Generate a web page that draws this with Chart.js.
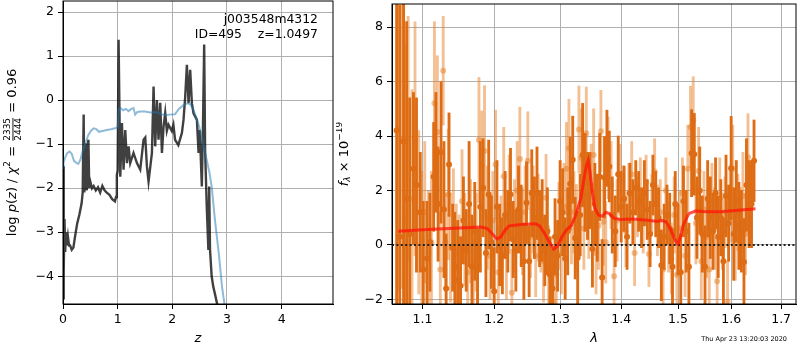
<!DOCTYPE html>
<html>
<head>
<meta charset="utf-8">
<script src="https://cdn.jsdelivr.net/npm/chart.js@4.4.0/dist/chart.umd.min.js"></script>
<style>
  body { margin: 0; background: #fff; }
  #wrap { position: relative; width: 800px; height: 350px; }
  canvas { position: absolute; top: 0; }
</style>
</head>
<body>
<div id="wrap">
  <canvas id="pz" width="340" height="350" style="left:0"></canvas>
  <canvas id="spec" width="464" height="350" style="left:336px"></canvas>
</div>
<script>
// ---- left panel: log p(z) and chi2 curve ----
const pzZ = [0.0, 0.008, 0.018, 0.028, 0.04, 0.055, 0.07, 0.09, 0.11, 0.13, 0.16, 0.19, 0.22, 0.26, 0.3, 0.34, 0.36, 0.378, 0.39, 0.405, 0.42, 0.435, 0.45, 0.465, 0.48, 0.5, 0.53, 0.56, 0.6, 0.64, 0.68, 0.72, 0.76, 0.8, 0.85, 0.9, 0.95, 0.97, 0.985, 1.0, 1.017, 1.048, 1.078, 1.108, 1.139, 1.17, 1.2, 1.23, 1.29, 1.353, 1.413, 1.474, 1.505, 1.535, 1.565, 1.627, 1.657, 1.687, 1.718, 1.748, 1.779, 1.81, 1.84, 1.87, 1.9, 1.93, 1.99, 2.02, 2.05, 2.11, 2.175, 2.205, 2.236, 2.267, 2.297, 2.327, 2.358, 2.388, 2.45, 2.48, 2.5, 2.52, 2.54, 2.56, 2.583, 2.6, 2.63, 2.66, 2.675, 2.69, 2.72, 2.75, 2.78, 2.815, 2.845];
const pzLog = [-4.5, -1.5, -3.9, -2.7, -3.45, -3.0, -3.3, -3.1, -3.3, -3.3, -3.4, -3.35, -3.1, -2.8, -2.6, -2.35, -2.1, -0.33, -2.1, -1.6, -0.98, -2.05, -1.1, -0.9, -2.0, -1.85, -2.0, -1.95, -2.05, -1.98, -2.1, -1.95, -2.05, -2.1, -2.15, -2.25, -2.3, -2.2, -1.7, -1.6, 1.37, -1.74, -0.52, -1.58, -0.68, -1.43, -1.05, -1.43, -1.2, -1.43, -1.58, -0.9, -0.85, -1.5, -1.85, -1.2, 0.31, -1.05, 0.0, -0.9, -0.06, -1.2, -0.6, -0.29, -0.7, -0.56, -0.7, -0.56, -0.9, -1.02, -0.75, -0.45, 0.08, 0.8, -0.07, 0.69, -0.07, -0.3, -0.45, -1.2, -0.68, -1.28, -1.96, -0.68, 1.26, -1.13, -2.42, -3.4, -1.96, -3.4, -4.0, -4.24, -4.4, -4.6, -4.8];
const chiZ = [0.0, 0.01, 0.04, 0.08, 0.12, 0.16, 0.2, 0.24, 0.28, 0.32, 0.36, 0.41, 0.46, 0.51, 0.56, 0.61, 0.66, 0.72, 0.8, 0.88, 0.95, 1.0, 1.02, 1.05, 1.1, 1.15, 1.2, 1.25, 1.29, 1.32, 1.36, 1.42, 1.5, 1.6, 1.7, 1.8, 1.88, 1.95, 2.05, 2.12, 2.2, 2.28, 2.33, 2.38, 2.42, 2.48, 2.54, 2.6, 2.63, 2.68, 2.72, 2.78, 2.85, 2.91, 2.95, 2.97];
const chiLog = [-1.55, -1.42, -1.3, -1.2, -1.17, -1.22, -1.38, -1.42, -1.45, -1.35, -1.15, -0.98, -0.8, -0.7, -0.64, -0.66, -0.72, -0.7, -0.68, -0.66, -0.64, -0.62, -0.2, -0.18, -0.23, -0.2, -0.25, -0.2, -0.18, -0.33, -0.27, -0.26, -0.26, -0.28, -0.27, -0.32, -0.34, -0.33, -0.32, -0.2, -0.12, -0.07, -0.1, -0.2, -0.34, -0.55, -0.83, -1.2, -1.36, -1.65, -1.96, -2.72, -3.48, -4.24, -4.6, -4.85];
const zTicks = [0, 1, 2, 3, 4];
const pzYTicks = [-4, -3, -2, -1, 0, 1, 2];

// ---- right panel: spectrum ----
const lamDark = [1.066, 1.070, 1.075, 1.079, 1.083, 1.088, 1.092, 1.097, 1.101, 1.106, 1.110, 1.115, 1.118, 1.121, 1.125, 1.129, 1.132, 1.136, 1.141, 1.144, 1.148, 1.152, 1.156, 1.160, 1.164, 1.168, 1.172, 1.176, 1.180, 1.184, 1.188, 1.192, 1.196, 1.200, 1.204, 1.208, 1.212, 1.216, 1.220, 1.224, 1.228, 1.232, 1.236, 1.240, 1.244, 1.248, 1.252, 1.256, 1.260, 1.264, 1.268, 1.272, 1.276, 1.280, 1.284, 1.288, 1.292, 1.296, 1.300, 1.304, 1.308, 1.312, 1.316, 1.320, 1.324, 1.328, 1.332, 1.336, 1.340, 1.344, 1.348, 1.352, 1.356, 1.360, 1.364, 1.368, 1.372, 1.376, 1.380, 1.385, 1.390, 1.395, 1.400, 1.405, 1.410, 1.415, 1.420, 1.425, 1.430, 1.435, 1.440, 1.445, 1.450, 1.455, 1.460, 1.465, 1.470, 1.475, 1.480, 1.485, 1.490, 1.495, 1.500, 1.505, 1.510, 1.515, 1.520, 1.525, 1.530, 1.535, 1.540, 1.545, 1.550, 1.555, 1.560, 1.565, 1.570, 1.575, 1.580, 1.585, 1.590, 1.595, 1.600, 1.605, 1.610, 1.615, 1.620, 1.625, 1.630, 1.635, 1.640, 1.645];
const fluxDark = [4.2, 0.3, 3.8, 1.7, 0.4, 2.8, 2.2, 1.2, -0.9, -0.5, 0.1, 2.5, 3.4, 1.5, 3.4, 1.3, -1.6, 2.95, -0.1, -0.8, -1.3, -1.5, 0.9, -0.2, 1.5, -0.8, 0.5, -0.9, 1.4, 2.1, -0.3, 1.85, 0.1, -1.7, 1.4, 0.0, -0.4, 1.1, 0.5, 1.85, 0.2, -0.2, 1.3, 0.7, -0.6, 1.55, -0.6, 1.9, 1.0, 1.9, 0.6, 0.9, -0.2, 0.5, -1.1, -1.6, 0.3, -0.4, 1.6, 1.2, -0.5, 0.5, 2.25, 3.13, 0.25, -0.47, 1.1, 3.3, 2.3, 1.8, 2.0, -0.15, 1.5, 1.0, 2.5, -1.2, 2.48, 3.55, 2.88, 1.1, 0.5, 2.6, 1.4, 1.7, 0.3, 1.9, 1.2, 2.1, 1.6, 1.0, 1.9, 1.3, 0.4, 2.2, 1.5, 1.0, -0.75, 0.3, 1.1, 0.6, -0.8, 1.5, 0.2, -1.0, 1.6, 0.5, -0.8, 3.37, 3.33, 1.0, 2.0, 0.4, -0.8, 1.7, 1.0, 0.5, 1.9, 0.3, 1.0, -0.6, 1.8, 0.8, 2.82, 0.4, 1.6, 0.7, 0.5, -0.63, 2.2, 1.5, 1.5, 3.09];
const errDark = [9.0, 8.5, 7.5, 6.5, 5.0, 2.8, 3.2, 2.2, 2.5, 2.1, 1.8, 2.0, 2.2, 2.1, 2.6, 2.5, 2.0, 1.9, 1.6, 2.0, 2.2, 1.8, 1.6, 1.5, 2.3, 1.9, 1.8, 1.5, 2.4, 1.8, 1.6, 2.0, 1.7, 1.6, 1.7, 1.5, 1.4, 1.6, 1.5, 1.7, 1.4, 1.5, 1.6, 1.5, 1.4, 1.5, 1.3, 1.6, 1.5, 1.7, 1.4, 1.5, 1.3, 1.6, 1.4, 1.5, 1.4, 1.3, 1.5, 1.6, 1.5, 1.6, 1.7, 1.6, 1.5, 1.7, 1.5, 1.9, 1.8, 1.6, 1.4, 1.4, 1.5, 1.6, 1.6, 1.4, 1.5, 1.4, 1.3, 1.4, 1.3, 1.4, 1.3, 1.2, 1.2, 1.1, 1.2, 1.0, 1.1, 1.1, 1.2, 1.1, 1.2, 1.1, 1.2, 1.1, 1.3, 1.2, 1.1, 1.3, 1.4, 1.2, 1.3, 1.4, 1.3, 1.5, 1.6, 1.6, 1.5, 1.5, 1.6, 1.4, 1.5, 1.4, 1.5, 1.4, 1.3, 1.5, 1.4, 1.6, 1.5, 1.4, 1.9, 1.7, 1.5, 1.6, 1.5, 1.6, 1.7, 1.6, 1.6, 1.5];
const lamLight = [1.068, 1.073, 1.077, 1.081, 1.086, 1.090, 1.095, 1.099, 1.103, 1.108, 1.112, 1.116, 1.120, 1.124, 1.128, 1.131, 1.135, 1.138, 1.142, 1.146, 1.150, 1.154, 1.158, 1.162, 1.166, 1.170, 1.174, 1.178, 1.182, 1.186, 1.190, 1.194, 1.198, 1.202, 1.206, 1.210, 1.214, 1.218, 1.222, 1.226, 1.230, 1.234, 1.238, 1.242, 1.246, 1.250, 1.254, 1.258, 1.262, 1.266, 1.270, 1.274, 1.278, 1.282, 1.286, 1.290, 1.294, 1.298, 1.302, 1.306, 1.310, 1.314, 1.318, 1.322, 1.326, 1.330, 1.334, 1.338, 1.342, 1.346, 1.350, 1.354, 1.358, 1.362, 1.366, 1.370, 1.374, 1.378, 1.383, 1.388, 1.393, 1.398, 1.403, 1.408, 1.413, 1.418, 1.423, 1.428, 1.433, 1.438, 1.443, 1.448, 1.453, 1.458, 1.463, 1.468, 1.473, 1.478, 1.483, 1.488, 1.493, 1.498, 1.503, 1.508, 1.513, 1.518, 1.523, 1.528, 1.533, 1.538, 1.543, 1.548, 1.553, 1.558, 1.563, 1.568, 1.573, 1.578, 1.583, 1.588, 1.593, 1.598, 1.603, 1.608, 1.613, 1.618, 1.623, 1.628, 1.633, 1.638];
const fluxLight = [4.3, 3.9, 0.9, 3.9, 1.7, 3.9, 1.2, 0.2, 1.2, -0.3, 0.1, 5.2, 4.15, -0.9, 6.4, 0.1, 1.85, -0.1, 0.6, -0.3, -0.9, 1.6, 0.2, -1.0, 0.5, -0.7, 0.1, 3.85, 2.92, 3.45, 1.0, -0.4, 0.9, 2.95, -1.0, 0.2, 2.52, -0.3, 1.5, -1.76, 0.7, 2.0, 3.16, 0.5, 1.2, 3.09, 0.3, 1.3, -0.4, 1.0, 0.4, -0.6, 1.73, -0.8, -1.3, -2.1, -1.1, 0.7, -0.3, 1.4, 2.8, 3.55, 0.9, 1.2, 0.62, 4.24, 3.2, 0.6, 4.1, 1.1, 2.2, 3.3, -0.3, 0.7, 4.18, 0.85, 0.1, 3.2, 2.2, -1.15, 0.9, 2.4, 1.7, 0.5, 1.9, 2.6, -0.3, 1.4, 2.0, 0.8, 2.3, -0.33, 1.5, 2.7, 0.9, 1.2, -0.9, 2.0, 0.3, -0.5, 1.1, -1.1, 0.6, 1.9, -0.4, 2.8, 4.33, 4.58, 0.8, 2.72, -0.6, 1.3, 0.3, -0.9, 1.6, 0.6, -1.33, 1.7, 0.5, 1.2, -2.1, 1.5, 2.8, 0.2, 1.2, 0.6, 1.8, 0.4, 3.22, 1.4];
const errLight = [6.0, 5.5, 6.5, 4.5, 4.0, 4.3, 3.0, 2.5, 2.6, 2.3, 2.6, 3.0, 2.8, 2.1, 2.0, 1.8, 2.4, 2.0, 2.2, 1.8, 2.0, 1.9, 1.7, 1.6, 1.9, 1.6, 1.8, 2.3, 2.0, 2.4, 1.9, 1.6, 1.8, 2.0, 1.7, 1.6, 1.8, 1.7, 1.8, 1.6, 1.7, 1.8, 1.9, 1.6, 1.7, 1.8, 1.5, 1.6, 1.5, 1.6, 1.4, 1.5, 1.6, 1.5, 1.6, 1.4, 1.5, 1.6, 1.5, 1.6, 1.7, 1.8, 1.6, 1.5, 1.6, 1.6, 1.8, 1.5, 1.7, 1.6, 1.5, 1.7, 1.5, 1.6, 1.5, 1.6, 1.5, 1.5, 1.6, 1.4, 1.5, 1.3, 1.2, 1.3, 1.1, 1.2, 1.2, 1.1, 1.2, 1.1, 1.0, 1.2, 1.1, 1.2, 1.3, 1.2, 1.4, 1.2, 1.3, 1.3, 1.4, 1.3, 1.4, 1.3, 1.5, 1.6, 1.5, 1.6, 1.5, 1.6, 1.4, 1.4, 1.5, 1.3, 1.4, 1.5, 1.6, 1.5, 1.4, 1.3, 1.5, 1.4, 1.6, 1.5, 1.4, 1.5, 1.6, 1.5, 1.6, 1.5];
const modelLam = [1.068, 1.10, 1.15, 1.181, 1.19, 1.198, 1.204, 1.21, 1.216, 1.222, 1.24, 1.262, 1.268, 1.275, 1.282, 1.29, 1.296, 1.303, 1.31, 1.318, 1.325, 1.333, 1.338, 1.342, 1.345, 1.348, 1.352, 1.356, 1.362, 1.368, 1.374, 1.38, 1.388, 1.40, 1.42, 1.44, 1.45, 1.462, 1.47, 1.478, 1.486, 1.492, 1.497, 1.50, 1.505, 1.51, 1.52, 1.533, 1.55, 1.58, 1.614, 1.648];
const modelFlux = [0.5, 0.56, 0.62, 0.66, 0.6, 0.38, 0.22, 0.3, 0.55, 0.7, 0.75, 0.78, 0.7, 0.45, 0.15, -0.15, -0.05, 0.3, 0.55, 0.72, 1.1, 1.7, 2.4, 2.9, 3.1, 2.7, 1.9, 1.35, 1.1, 1.05, 1.2, 1.15, 0.98, 0.93, 0.95, 0.92, 0.9, 0.86, 0.9, 0.85, 0.6, 0.3, 0.08, 0.03, 0.35, 0.76, 1.15, 1.25, 1.22, 1.22, 1.27, 1.33];
const lamTicks = [1.1, 1.2, 1.3, 1.4, 1.5, 1.6, 1.7];
const fluxTicks = [-2, 0, 2, 4, 6, 8];

const FAM = "'DejaVu Sans'";
Chart.defaults.font.family = FAM;
Chart.defaults.font.size = 12.5;
Chart.defaults.color = '#000';

const minus = v => (v < 0 ? '\u2212' : '') + Math.abs(v);
const GRID = '#b0b0b0';

// keep the plot boxes where they are: no extra room for edge labels
const noPad = s => { s.paddingTop = 0; s.paddingBottom = 0; s.paddingLeft = 0; s.paddingRight = 0; };

const frame = {
  id: 'frame',
  afterDraw(chart) {
    const { ctx, chartArea: a } = chart;
    ctx.save();
    ctx.strokeStyle = '#000';
    ctx.lineWidth = 1;
    ctx.strokeRect(a.left, a.top, a.right - a.left, a.bottom - a.top);
    ctx.restore();
  }
};

// rotated label made of pieces (for math-like text)
function drawRotated(ctx, parts, cx, cy) {
  ctx.save();
  ctx.translate(cx, cy);
  ctx.rotate(-Math.PI / 2);
  let total = 0;
  for (const p of parts) {
    ctx.font = p.f;
    p.w = p.frac ? Math.max(ctx.measureText(p.frac[0]).width, ctx.measureText(p.frac[1]).width) + 2
                 : ctx.measureText(p.t).width;
    total += p.w;
  }
  let x = -total / 2;
  ctx.fillStyle = '#000';
  ctx.textBaseline = 'middle';
  for (const p of parts) {
    ctx.font = p.f;
    if (p.frac) {
      ctx.textAlign = 'center';
      ctx.fillText(p.frac[0], x + p.w / 2, -5.5);
      ctx.fillText(p.frac[1], x + p.w / 2, 5.5);
      ctx.fillRect(x + 1, -0.5, p.w - 2, 0.9);
      ctx.textAlign = 'left';
    } else {
      ctx.textAlign = 'left';
      ctx.fillText(p.t, x, p.dy || 0);
    }
    x += p.w;
  }
  ctx.restore();
}

const leftText = {
  id: 'leftText',
  afterDraw(chart) {
    const { ctx, chartArea: a } = chart;
    ctx.save();
    ctx.fillStyle = '#000';
    ctx.font = '12.4px ' + FAM;
    ctx.textAlign = 'right';
    ctx.textBaseline = 'middle';
    ctx.fillText('j003548m4312', 318, 20);
    ctx.fillText('ID=495    z=1.0497', 318, 34.5);
    ctx.restore();
    const r = '13px ' + FAM, it = 'italic 13px ' + FAM, sm = '9px ' + FAM;
    drawRotated(ctx, [
      { t: 'log ', f: r }, { t: 'p', f: it }, { t: '(', f: r }, { t: 'z', f: it }, { t: ') / ', f: r },
      { t: '\u03c7', f: it }, { t: '2', f: sm, dy: -5 }, { t: ' = ', f: r },
      { frac: ['2335', '2444'], f: sm }, { t: ' = 0.96', f: r }
    ], 13, (a.top + a.bottom) / 2);
  }
};

const rightText = {
  id: 'rightText',
  afterDraw(chart) {
    const { ctx, chartArea: a } = chart;
    const r = '13px ' + FAM, it = 'italic 13px ' + FAM, smi = 'italic 9px ' + FAM, sm = '9px ' + FAM;
    drawRotated(ctx, [
      { t: 'f', f: it }, { t: '\u03bb', f: smi, dy: 3 }, { t: ' \u00d7 10', f: r }, { t: '\u221219', f: sm, dy: -5 }
    ], 9, (a.top + a.bottom) / 2);
    ctx.save();
    ctx.fillStyle = '#000';
    ctx.font = '6.5px ' + FAM;
    ctx.textAlign = 'right';
    ctx.textBaseline = 'middle';
    ctx.fillText('Thu Apr 23 13:20:03 2020', 451, 339);
    ctx.restore();
  }
};

const pts = (xs, ys) => xs.map((x, i) => ({ x: x, y: ys[i] }));

new Chart(document.getElementById('pz'), {
  type: 'line',
  data: {
    datasets: [
      { data: pts(chiZ, chiLog), borderColor: 'rgba(31,119,180,0.5)', borderWidth: 2, pointRadius: 0, order: 1 },
      { data: pts(pzZ, pzLog), borderColor: 'rgba(0,0,0,0.75)', borderWidth: 2.4, pointRadius: 0, order: 2 }
    ]
  },
  options: {
    responsive: false, animation: false, events: [],
    layout: { padding: { left: 0, right: 7, top: 1, bottom: 0 } },
    plugins: { legend: { display: false }, tooltip: { enabled: false } },
    scales: {
      x: {
        type: 'linear', min: 0, max: 4.94,
        afterBuildTicks: s => { s.ticks = zTicks.map(v => ({ value: v })); },
        afterFit: s => { s.height = 46; noPad(s); },
        ticks: { padding: 3, maxRotation: 0, callback: v => minus(v) },
        grid: { color: GRID, tickColor: '#000', tickLength: 5 },
        border: { color: '#000' },
        title: { display: true, text: 'z', font: { style: 'italic', size: 13 }, padding: { top: 0, bottom: 4 } }
      },
      y: {
        type: 'linear', min: -4.63, max: 2.25,
        afterBuildTicks: s => { s.ticks = pzYTicks.map(v => ({ value: v })); },
        afterFit: s => { s.width = 63; noPad(s); },
        ticks: { padding: 4, callback: v => minus(v) },
        grid: { color: GRID, tickColor: '#000', tickLength: 5 },
        border: { color: '#000' }
      }
    }
  },
  plugins: [frame, leftText]
});

const DARK = 'rgb(222,108,20)';
const LIGHT = 'rgba(232,128,40,0.5)';
const bars = (xs, ys, es) => xs.map((x, i) => ({ x: x, y: [ys[i] - es[i], ys[i] + es[i]] }));

new Chart(document.getElementById('spec'), {
  type: 'scatter',
  data: {
    datasets: [
      { type: 'bar', data: bars(lamLight, fluxLight, errLight), backgroundColor: LIGHT, barThickness: 2.2, grouped: false, order: 6 },
      { type: 'scatter', data: pts(lamLight, fluxLight), backgroundColor: LIGHT, borderWidth: 0, pointRadius: 3, order: 5 },
      { type: 'bar', data: bars(lamDark, fluxDark, errDark), backgroundColor: DARK, barThickness: 2.2, grouped: false, order: 4 },
      { type: 'scatter', data: pts(lamDark, fluxDark), backgroundColor: DARK, borderWidth: 0, pointRadius: 3, order: 3 },
      { type: 'line', data: [{ x: 1.06, y: 0 }, { x: 1.731, y: 0 }], borderColor: '#222', borderWidth: 2, borderDash: [2, 2.4], pointRadius: 0, order: 2 },
      { type: 'line', data: pts(modelLam, modelFlux), borderColor: 'rgba(255,20,10,0.75)', borderWidth: 3, pointRadius: 0, order: 1 }
    ]
  },
  options: {
    responsive: false, animation: false, events: [],
    layout: { padding: { left: 0, right: 1, top: 1, bottom: 0 } },
    plugins: { legend: { display: false }, tooltip: { enabled: false } },
    scales: {
      x: {
        type: 'logarithmic', min: 1.06, max: 1.731, offset: false,
        afterBuildTicks: s => { s.ticks = lamTicks.map(v => ({ value: v })); },
        afterFit: s => { s.height = 46; noPad(s); },
        ticks: { padding: 3, maxRotation: 0, autoSkip: false, callback: v => v.toFixed(1) },
        grid: { color: GRID, tickColor: '#000', tickLength: 5, offset: false },
        border: { color: '#000' },
        title: { display: true, text: '\u03bb', font: { style: 'italic', size: 13 }, padding: { top: 0, bottom: 4 } }
      },
      y: {
        type: 'linear', min: -2.17, max: 8.85, beginAtZero: false,
        afterBuildTicks: s => { s.ticks = fluxTicks.map(v => ({ value: v })); },
        afterFit: s => { s.width = 56; noPad(s); },
        ticks: { padding: 4, callback: v => minus(v) },
        grid: { color: GRID, tickColor: '#000', tickLength: 5 },
        border: { color: '#000' }
      }
    }
  },
  plugins: [frame, rightText]
});
</script>
</body>
</html>
